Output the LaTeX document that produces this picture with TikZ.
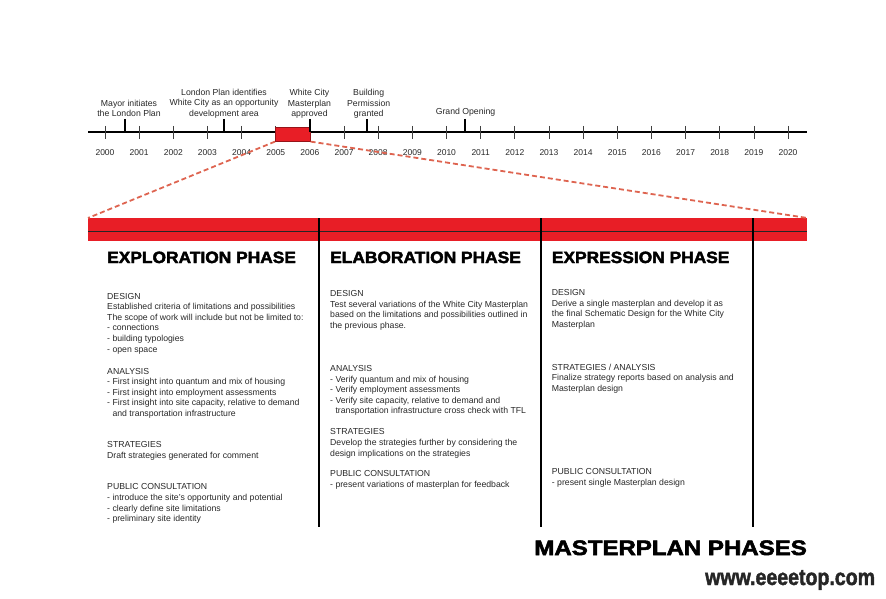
\documentclass[tikz,border=0pt]{standalone}
\usepackage{fontspec}
\setmainfont{Liberation Sans}
\newfontfamily\heavyfont[FakeBold=2.5]{Liberation Sans Bold}
\newfontfamily\wmfont[FakeBold=2]{Liberation Sans Bold}
\usepackage{graphicx}
\definecolor{barred}{RGB}{232,30,38}
\definecolor{boxedge}{RGB}{150,20,25}
\definecolor{dashred}{RGB}{222,100,80}
\definecolor{textgray}{RGB}{40,40,40}
\begin{document}
\begin{tikzpicture}[x=1pt,y=-1pt,
  axisline/.style={line width=1.2pt, black},
  tickline/.style={line width=0.7pt, black!75},
  eventmark/.style={line width=2pt, black},
  year/.style={font=\fontsize{8.5}{10}\selectfont, text=textgray, anchor=base, inner sep=0pt},
  eventlab/.style={font=\fontsize{8.7}{10.5}\selectfont, text=textgray, align=center, anchor=north, inner sep=0pt},
  tlbox/.style={fill=barred, draw=boxedge, line width=0.6pt, anchor=north west, minimum width=35pt, minimum height=14pt, inner sep=0pt},
  phasebar/.style={fill=barred, draw=none, anchor=north west, minimum width=719pt, minimum height=23pt, inner sep=0pt},
  divider/.style={line width=1.3pt, black},
  dashline/.style={dashed, dash pattern=on 5pt off 3pt, line width=1.8pt, dashred},
  phasetitle/.style={font=\heavyfont\fontsize{16.3}{18}\selectfont, anchor=base west, inner sep=0pt},
  body/.style={font=\fontsize{8.7}{10.6}\selectfont, text=textgray, align=left, anchor=north west, inner sep=0pt},
  bigtitle/.style={font=\heavyfont\fontsize{20.9}{24}\selectfont, anchor=base east, inner sep=0pt},
  watermark/.style={font=\wmfont\fontsize{23}{26}\selectfont, text=black!85, anchor=base west, inner sep=0pt}
]
\useasboundingbox (0,0) rectangle (886,599);

% ---------- timeline ----------
\coordinate (axL) at (88,132);
\coordinate (axR) at (807,132);
\draw[axisline] (axL) -- (axR);
\foreach \i in {0,...,20} {
  \pgfmathsetmacro\xx{105+34.15*\i}
  \draw[tickline] (\xx,126) -- (\xx,139);
  \node[year] (y\i) at (\xx,155) {\the\numexpr2000+\i\relax};
}
\node[tlbox] (wcbox) at (275,127) {};

% event markers
\coordinate (m1t) at (125,119);   \coordinate (m1b) at (125,132);
\coordinate (m2t) at (224.3,119); \coordinate (m2b) at (224.3,132);
\coordinate (m3t) at (309.5,119); \coordinate (m3b) at (309.5,132);
\coordinate (m4t) at (366.7,119); \coordinate (m4b) at (366.7,132);
\coordinate (m5t) at (465,119);   \coordinate (m5b) at (465,132);
\draw[eventmark] (m1t) -- (m1b);
\draw[eventmark] (m2t) -- (m2b);
\draw[eventmark] (m3t) -- (m3b);
\draw[eventmark] (m4t) -- (m4b);
\draw[eventmark] (m5t) -- (m5b);

\node[eventlab] (mayor) at (129,99.8) {Mayor initiates\\the London Plan};
\node[eventlab] (lplan) at (224,88.8) {London Plan identifies\\White City as an opportunity\\development area};
\node[eventlab] (wcapp) at (309.5,89) {White City\\Masterplan\\approved};
\node[eventlab] (bperm) at (368.7,89) {Building\\Permission\\granted};
\node[eventlab] (gopen) at (465.5,107.5) {Grand Opening};

% ---------- phase bar ----------
\node[phasebar] (bar) at (88,218) {};
\draw[line width=1pt, black!85] ([yshift=-2.2pt]bar.west) -- ([yshift=-2.2pt]bar.east);

\draw[dashline] (wcbox.south west) -- (bar.north west);
\draw[dashline] (wcbox.south east) -- (bar.north east);

\coordinate (d1t) at (319,218); \coordinate (d1b) at (319,527);
\coordinate (d2t) at (541,218); \coordinate (d2b) at (541,527);
\coordinate (d3t) at (753,218); \coordinate (d3b) at (753,527);
\draw[divider] (d1t) -- (d1b);
\draw[divider] (d2t) -- (d2b);
\draw[divider] (d3t) -- (d3b);

% ---------- phase titles ----------
\node[phasetitle] (p1) at (107,263) {\scalebox{1.065}[1]{EXPLORATION PHASE}};
\node[phasetitle] (p2) at (330,263) {\scalebox{1.065}[1]{ELABORATION PHASE}};
\node[phasetitle] (p3) at (551.7,263) {\scalebox{1.065}[1]{EXPRESSION PHASE}};

% ---------- exploration ----------
\node[body] (e1) at (107,292.9) {DESIGN\\Established criteria of limitations and possibilities\\The scope of work will include but not be limited to:\\- connections\\- building typologies\\- open space};
\node[body] (e2) at (107,367.9) {ANALYSIS\\- First insight into quantum and mix of housing\\- First insight into employment assessments\\- First insight into site capacity, relative to demand\\\hphantom{- }and transportation infrastructure};
\node[body] (e3) at (107,441.2) {STRATEGIES\\Draft strategies generated for comment};
\node[body] (e4) at (107,483.6) {PUBLIC CONSULTATION\\- introduce the site's opportunity and potential\\- clearly define site limitations\\- preliminary site identity};

% ---------- elaboration ----------
\node[body] (l1) at (330,290.2) {DESIGN\\Test several variations of the White City Masterplan\\based on the limitations and possibilities outlined in\\the previous phase.};
\node[body] (l2) at (330,365.2) {ANALYSIS\\- Verify quantum and mix of housing\\- Verify employment assessments\\- Verify site capacity, relative to demand and\\\hphantom{- }transportation infrastructure cross check with TFL};
\node[body] (l3) at (330,428.6) {STRATEGIES\\Develop the strategies further by considering the\\design implications on the strategies};
\node[body] (l4) at (330,470.2) {PUBLIC CONSULTATION\\- present variations of masterplan for feedback};

% ---------- expression ----------
\node[body] (x1) at (551.7,289.2) {DESIGN\\Derive a single masterplan and develop it as\\the final Schematic Design for the White City\\Masterplan};
\node[body] (x2) at (551.7,363.6) {STRATEGIES / ANALYSIS\\Finalize strategy reports based on analysis and\\Masterplan design};
\node[body] (x3) at (551.7,468.6) {PUBLIC CONSULTATION\\- present single Masterplan design};

% ---------- footer ----------
\node[bigtitle] (title) at (807,555) {\scalebox{1.15}[1]{MASTERPLAN PHASES}};
\node[watermark] (wm) at (705,585) {\scalebox{0.85}[1]{www.eeeetop.com}};
\end{tikzpicture}
\end{document}
